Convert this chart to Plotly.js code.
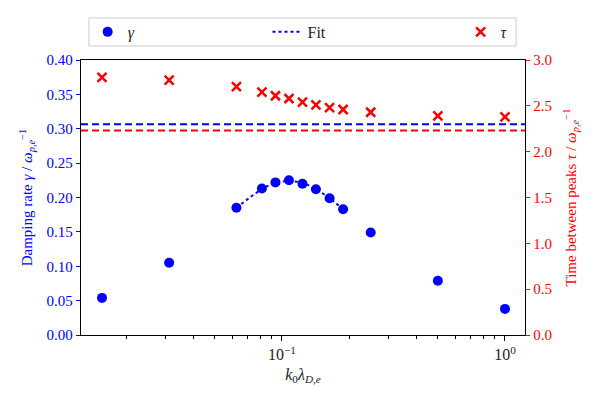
<!DOCTYPE html>
<html>
<head>
<meta charset="utf-8">
<script src="https://cdn.plot.ly/plotly-3.0.1.min.js"></script>
<style>body{margin:0;} #chart{width:598px;height:399px;}</style>
</head>
<body>
<div id="chart"></div>
<script>
// k0 * lambda_D,e values
var kLambda = [0.0156, 0.0312, 0.0625, 0.0813, 0.0935, 0.1075, 0.1236, 0.142, 0.1635, 0.188, 0.25, 0.5, 1.0];
// damping rate gamma (left axis)
var gamma = [0.054, 0.105, 0.185, 0.213, 0.222, 0.225, 0.220, 0.212, 0.199, 0.183, 0.149, 0.079, 0.038];
// time between peaks tau (right axis)
var tau = [2.81, 2.78, 2.71, 2.65, 2.61, 2.58, 2.54, 2.51, 2.48, 2.46, 2.43, 2.39, 2.38];
// fit curve through the peak region
var fitK = [0.0625, 0.0813, 0.0935, 0.1075, 0.1236, 0.142, 0.1635, 0.188];
var fitGamma = [0.185, 0.212, 0.221, 0.224, 0.221, 0.212, 0.199, 0.183];
// horizontal reference levels
var gammaLevel = 0.3066;
var tauLevel = 2.23;

var xTicks = [0.1, 1];
var xTickText = ['10<sup>\u22121</sup>', '10<sup>0</sup>'];
var xMinor = [0.02, 0.03, 0.04, 0.05, 0.06, 0.07, 0.08, 0.09, 0.2, 0.3, 0.4, 0.5, 0.6, 0.7, 0.8, 0.9];

var serif = '"Liberation Serif", "DejaVu Serif", serif';
var blue = '#0000ff';
var red = '#ff0000';

var data = [
  {
    x: kLambda, y: gamma, type: 'scatter', mode: 'markers',
    name: '<i>\u03b3</i>', legend: 'legend',
    marker: {color: blue, size: 10, symbol: 'circle'},
    yaxis: 'y'
  },
  {
    x: fitK, y: fitGamma, type: 'scatter', mode: 'lines',
    name: 'Fit', legend: 'legend2',
    line: {color: blue, width: 2, dash: 'dot', shape: 'spline'},
    yaxis: 'y'
  },
  {
    x: kLambda, y: tau, type: 'scatter', mode: 'markers',
    name: '<i>\u03c4</i>', legend: 'legend3',
    marker: {color: red, size: 9, symbol: 'x-thin', line: {color: red, width: 2.5}},
    yaxis: 'y2'
  }
];

var legendBase = {
  orientation: 'h', yanchor: 'middle', y: 1.102, xanchor: 'left',
  bgcolor: 'rgba(0,0,0,0)', borderwidth: 0,
  font: {family: serif, size: 16, color: '#222'}
};

var layout = {
  width: 598, height: 399,
  margin: {l: 81, r: 73, t: 60, b: 64},
  paper_bgcolor: 'white', plot_bgcolor: 'white',
  font: {family: serif, size: 15, color: '#000'},
  showlegend: true,
  legend: Object.assign({}, legendBase, {x: 0.015}),
  legend2: Object.assign({}, legendBase, {x: 0.42}),
  legend3: Object.assign({}, legendBase, {x: 0.855}),
  xaxis: {
    type: 'log', range: [-1.901, 0.0897],
    tickmode: 'array', tickvals: xTicks, ticktext: xTickText,
    ticks: 'outside', ticklen: 5, tickcolor: '#000',
    minor: {tickmode: 'array', tickvals: xMinor, ticks: 'outside', ticklen: 3, tickcolor: '#000'},
    showgrid: false, zeroline: false,
    showline: true, linecolor: '#000', linewidth: 1.2, mirror: true,
    tickfont: {family: serif, size: 16, color: '#222'},
    title: {text: '<i>k</i><sub>0</sub><i>\u03bb</i><sub><i>D,e</i></sub>', font: {family: serif, size: 16, color: '#222'}, standoff: 6}
  },
  yaxis: {
    range: [0, 0.4], dtick: 0.05, tickformat: '.2f',
    ticks: 'outside', ticklen: 4, tickcolor: blue,
    showgrid: false, zeroline: false,
    showline: true, linecolor: '#000', linewidth: 1.2,
    tickfont: {family: serif, size: 15, color: blue},
    title: {text: 'Damping rate <i>\u03b3</i> / <i>\u03c9</i><sub><i>p,e</i></sub><sup>\u22121</sup>', font: {family: serif, size: 15, color: blue}, standoff: 10}
  },
  yaxis2: {
    overlaying: 'y', side: 'right',
    range: [0, 3], dtick: 0.5, tickformat: '.1f',
    ticks: 'outside', ticklen: 4, tickcolor: red,
    showgrid: false, zeroline: false,
    showline: true, linecolor: '#000', linewidth: 1.2,
    tickfont: {family: serif, size: 15, color: red},
    title: {text: 'Time between peaks <i>\u03c4</i> / <i>\u03c9</i><sub><i>p,e</i></sub><sup>\u22121</sup>', font: {family: serif, size: 15, color: red}, standoff: 14}
  },
  shapes: [
    {type: 'line', xref: 'paper', x0: 0, x1: 1, yref: 'y', y0: gammaLevel, y1: gammaLevel,
     line: {color: blue, width: 2, dash: '7px,4px'}},
    {type: 'line', xref: 'paper', x0: 0, x1: 1, yref: 'y2', y0: tauLevel, y1: tauLevel,
     line: {color: red, width: 2, dash: '7px,4px'}},
    {type: 'rect', xref: 'paper', yref: 'paper', x0: 0.018, x1: 0.98, y0: 1.051, y1: 1.153,
     line: {color: '#cccccc', width: 1}, fillcolor: 'rgba(255,255,255,0.8)', layer: 'below'}
  ]
};

Plotly.newPlot('chart', data, layout, {displayModeBar: false, staticPlot: true});
</script>
</body>
</html>
